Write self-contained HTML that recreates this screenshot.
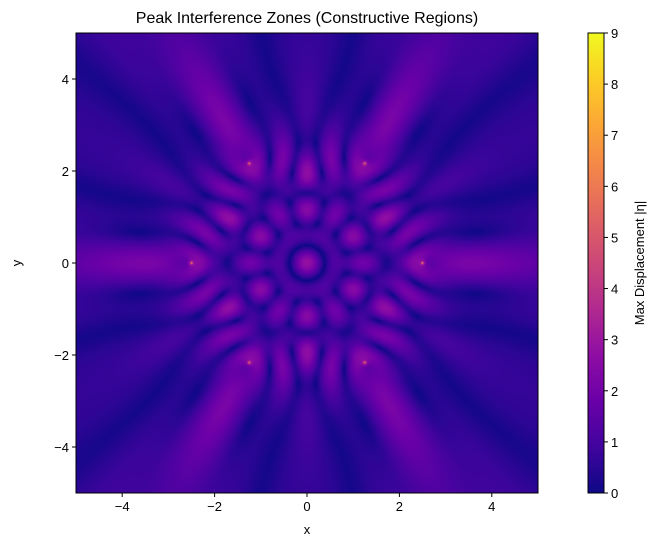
<!DOCTYPE html>
<html><head><meta charset="utf-8">
<style>
body{margin:0;background:#fff;width:658px;height:547px;position:relative;overflow:hidden;font-family:"Liberation Sans","DejaVu Sans",sans-serif;}
canvas{position:absolute;}
svg{position:absolute;left:0;top:0;}
</style></head>
<body>
<canvas id="heat" width="462" height="460" style="left:76px;top:33px"></canvas>
<canvas id="cbar" width="16" height="460" style="left:588px;top:33px"></canvas>
<svg id="ax" width="658" height="547"></svg>
<script>
// data
const sourceX = [2.5, 1.25, -1.25, -2.5, -1.25, 1.25];
const sourceY = [0, 2.165, 2.165, 0, -2.165, -2.165];
const waveNumber = [6.283];
const amplitude = [0.74];
const xTicks = [-4, -2, 0, 2, 4];
const yTicks = [-4, -2, 0, 2, 4];
const cbTicks = [0, 1, 2, 3, 4, 5, 6, 7, 8, 9];
const vmin = 0, vmax = 9;

const PL = [[13,8,135],[65,4,157],[106,0,168],[143,13,164],[177,42,144],[204,71,120],[225,100,98],[242,132,75],[252,166,54],[252,206,37],[240,249,33]];
function plasma(t){t=Math.max(0,Math.min(1,t));const f=t*10,i=Math.min(9,Math.floor(f)),u=f-i;
return PL[i].map((c,j)=>c+(PL[i+1][j]-c)*u);}

const L=76,R=538,T=33,B=493;
const sx=v=>L+(v+5)/10*(R-L);
const sy=v=>B-(v+5)/10*(B-T);
const cy=v=>B-(v-vmin)/(vmax-vmin)*(B-T);

// heatmap
const hc=document.getElementById('heat').getContext('2d');
const W=462,H=460,img=hc.createImageData(W,H);
const k=waveNumber[0];
for(let py=0;py<H;py++){const y=5-(py+0.5)/H*10;
 for(let px=0;px<W;px++){const x=-5+(px+0.5)/W*10;
  let re=0,im=0;
  for(let s=0;s<sourceX.length;s++){const r=Math.hypot(x-sourceX[s],y-sourceY[s]);const a=amplitude[0]/Math.sqrt(Math.max(r,0.012));re+=a*Math.cos(k*r);im+=a*Math.sin(k*r);}
  const v=Math.min(vmax,Math.hypot(re,im));
  const c=plasma((v-vmin)/(vmax-vmin));const o=(py*W+px)*4;
  img.data[o]=c[0];img.data[o+1]=c[1];img.data[o+2]=c[2];img.data[o+3]=255;}}
hc.putImageData(img,0,0);

// colorbar
const cc=document.getElementById('cbar').getContext('2d');
for(let py=0;py<460;py++){const c=plasma(1-(py+0.5)/460);cc.fillStyle=`rgb(${c.map(Math.round).join(',')})`;cc.fillRect(0,py,16,1);}

// axes
const svg=document.getElementById('ax');const NS='http://www.w3.org/2000/svg';
function el(tag,attrs,txt){const e=document.createElementNS(NS,tag);for(const a in attrs)e.setAttribute(a,attrs[a]);if(txt!==undefined)e.textContent=txt;svg.appendChild(e);return e;}
const fmt=v=>v<0?'\u2212'+(-v):''+v;
let e;
e=el('rect',{x:L,y:T,width:R-L,height:B-T,fill:'none',stroke:'#000','stroke-width':1});

xTicks.forEach(v=>{const x=sx(v);
 e=el('line',{x1:x,y1:B,x2:x,y2:B+4,stroke:'#000'});
 e=el('text',{x:x,y:B+18,'font-size':13,'text-anchor':'middle'},fmt(v));});
yTicks.forEach(v=>{const y=sy(v);
 e=el('line',{x1:L-4,y1:y,x2:L,y2:y,stroke:'#000'});
 e=el('text',{x:L-7,y:y+5,'font-size':13,'text-anchor':'end'},fmt(v));});
e=el('rect',{x:588,y:T,width:16,height:B-T,fill:'none',stroke:'#000'});
cbTicks.forEach(v=>{const y=cy(v);
 e=el('line',{x1:604,y1:y,x2:608,y2:y,stroke:'#000'});
 e=el('text',{x:611,y:y+5,'font-size':13},''+v);});
e=el('text',{x:307,y:23,'font-size':16,'text-anchor':'middle'},'Peak Interference Zones (Constructive Regions)');
e=el('text',{x:307,y:534,'font-size':13,'text-anchor':'middle'},'x');
e=el('text',{x:21,y:263,'font-size':13,'text-anchor':'middle',transform:'rotate(-90 21 263)'},'y');
e=el('text',{x:644,y:263,'font-size':13,'text-anchor':'middle',transform:'rotate(-90 644 263)'},'Max Displacement |η|');
</script>
</body></html>
